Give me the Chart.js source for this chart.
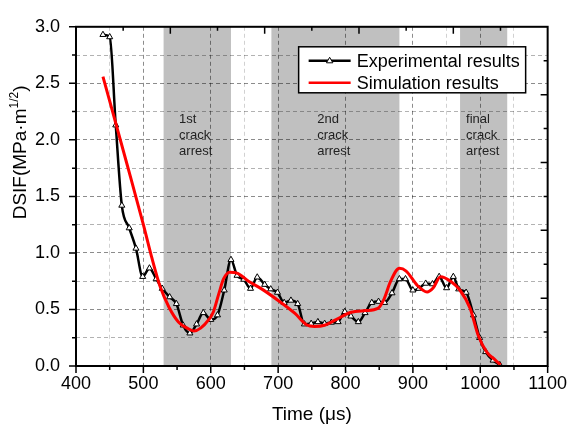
<!DOCTYPE html>
<html>
<head>
<meta charset="utf-8">
<script src="https://cdn.jsdelivr.net/npm/chart.js@4.4.0/dist/chart.umd.min.js"></script>
<style>
  html, body { margin: 0; padding: 0; background: #fff; }
  #wrap { width: 574px; height: 428px; }
</style>
</head>
<body>
<div id="wrap"><canvas id="dsifChart" width="574" height="428"></canvas></div>
<script>
// Experimental results (triangles), time in us, DSIF in MPa*m^1/2
const expTime = [440, 450, 459, 468, 479, 489, 499, 509, 519, 528,
  539, 549, 559, 569, 579, 589, 600, 610, 620, 630,
  639, 649, 659, 669, 680, 689, 699, 709, 719, 729,
  739, 749, 759, 769, 779, 789, 799, 808, 819, 829,
  839, 849, 858, 869, 880, 889, 900, 909, 919, 929,
  939, 950, 960, 968, 979, 990, 999, 1008, 1019, 1029];
const expDsif = [2.93, 2.91, 2.13, 1.42, 1.22, 1.04, 0.79, 0.865, 0.77, 0.685,
  0.61, 0.55, 0.36, 0.29, 0.37, 0.47, 0.41, 0.45, 0.67, 0.94,
  0.80, 0.765, 0.685, 0.785, 0.72, 0.68, 0.65, 0.56, 0.58, 0.55,
  0.37, 0.375, 0.39, 0.375, 0.385, 0.39, 0.48, 0.44, 0.39, 0.47,
  0.56, 0.57, 0.56, 0.645, 0.77, 0.77, 0.67, 0.685, 0.73, 0.725,
  0.79, 0.69, 0.79, 0.68, 0.65, 0.45, 0.25, 0.125, 0.05, 0.01];

// Simulation results (red curve)
const simTime = [440, 475, 500, 512, 525, 538, 552, 565, 575, 585,
  597, 604, 612, 619, 628, 640, 656, 676, 700, 725,
  742, 754, 769, 786, 808, 830, 848, 857, 867, 880,
  890, 907, 921, 930, 941, 956, 970, 985, 997, 1010,
  1022, 1030];
const simDsif = [2.56, 1.80, 1.25, 0.97, 0.70, 0.52, 0.39, 0.335, 0.31, 0.335,
  0.41, 0.48, 0.64, 0.77, 0.83, 0.82, 0.75, 0.68, 0.58, 0.465,
  0.365, 0.35, 0.36, 0.41, 0.475, 0.49, 0.51, 0.59, 0.75, 0.865,
  0.84, 0.71, 0.655, 0.69, 0.79, 0.75, 0.67, 0.51, 0.27, 0.12,
  0.055, 0.01];

// Crack arrest periods (grey bands) and their notes
const bandStart = [530, 690, 970];
const bandEnd = [630, 880, 1040];
const bandNotes = [["1st", "crack", "arrest"], ["2nd", "crack", "arrest"], ["final", "crack", "arrest"]];
const bandNoteX = [553, 758, 979];
const bandNoteY = 2.15;

// Tick labels
const xTickLabels = ["400", "500", "600", "700", "800", "900", "1000", "1100"];
const yTickLabels = ["0.0", "0.5", "1.0", "1.5", "2.0", "2.5", "3.0"];

const seriesNames = ["Experimental results", "Simulation results"];

const FONT = "Arial, 'Liberation Sans', Helvetica, sans-serif";
Chart.defaults.font.family = FONT;
Chart.defaults.color = "#000";

function inBand(v) {
  for (let i = 0; i < bandStart.length; i++) {
    if (v > bandStart[i] && v < bandEnd[i]) return true;
  }
  return false;
}

// grey bands go under the grid
const bandsPlugin = {
  id: "bands",
  beforeDraw(chart) {
    const { ctx, chartArea: a, scales: { x } } = chart;
    ctx.save();
    ctx.fillStyle = "#c0c0c0";
    bandStart.forEach((s, i) => {
      const x0 = x.getPixelForValue(s);
      const x1 = x.getPixelForValue(bandEnd[i]);
      ctx.fillRect(x0, a.top, x1 - x0, a.bottom - a.top);
    });
    ctx.restore();
  }
};

// frame, tick marks, notes, legend, y title
const decorPlugin = {
  id: "decor",
  afterDraw(chart) {
    const { ctx, chartArea: a, scales: { x, y } } = chart;
    ctx.save();

    // band notes
    ctx.fillStyle = "#222";
    ctx.font = "13px " + FONT;
    ctx.textAlign = "left";
    ctx.textBaseline = "alphabetic";
    bandNotes.forEach((lines, i) => {
      const px = x.getPixelForValue(bandNoteX[i]);
      const py = y.getPixelForValue(bandNoteY);
      lines.forEach((t, k) => ctx.fillText(t, px, py + k * 16));
    });

    // frame
    ctx.strokeStyle = "#000";
    ctx.lineWidth = 2;
    ctx.strokeRect(a.left, a.top, a.right - a.left, a.bottom - a.top);

    // ticks
    ctx.lineWidth = 1.5;
    ctx.beginPath();
    x.ticks.forEach(t => {
      const px = x.getPixelForValue(t.value);
      const len = t.value % 100 === 0 ? 7 : 4;
      ctx.moveTo(px, a.bottom);
      ctx.lineTo(px, a.bottom + len);
    });
    y.ticks.forEach(t => {
      const py = y.getPixelForValue(t.value);
      const len = (t.value * 2) % 1 === 0 ? 7 : 4;
      ctx.moveTo(a.left, py);
      ctx.lineTo(a.left - len, py);
    });
    for (let i = 1; i < 10; i++) {
      const len = i % 2 === 0 ? 7 : 4;
      const px = a.left + (a.right - a.left) * i / 10;
      ctx.moveTo(px, a.top);
      ctx.lineTo(px, a.top + len);
      const py = a.top + (a.bottom - a.top) * i / 10;
      ctx.moveTo(a.right, py);
      ctx.lineTo(a.right - len, py);
    }
    ctx.stroke();

    // legend
    const lw = 227, lh = 46;
    const lx = a.right - 22 - lw, ly = a.top + 20;
    ctx.fillStyle = "#fff";
    ctx.fillRect(lx, ly, lw, lh);
    ctx.lineWidth = 1.5;
    ctx.strokeRect(lx, ly, lw, lh);
    const rows = [ly + 14, ly + 36];
    const colors = ["#000", "#ff0000"];
    rows.forEach((ry, i) => {
      ctx.strokeStyle = colors[i];
      ctx.lineWidth = 2.5;
      ctx.beginPath();
      ctx.moveTo(lx + 10, ry);
      ctx.lineTo(lx + 52, ry);
      ctx.stroke();
      if (i === 0) {
        const cx = lx + 31;
        ctx.beginPath();
        ctx.moveTo(cx, ry - 3.5);
        ctx.lineTo(cx + 3.2, ry + 2);
        ctx.lineTo(cx - 3.2, ry + 2);
        ctx.closePath();
        ctx.fillStyle = "#fff";
        ctx.fill();
        ctx.lineWidth = 1;
        ctx.strokeStyle = "#000";
        ctx.stroke();
      }
      ctx.fillStyle = "#000";
      ctx.font = "18px " + FONT;
      ctx.textBaseline = "middle";
      ctx.fillText(seriesNames[i], lx + 58, ry + 1);
    });

    // y axis title with superscript
    const main = "DSIF(MPa·m", sup = "1/2", close = ")";
    ctx.font = "19px " + FONT;
    const wMain = ctx.measureText(main).width;
    const wClose = ctx.measureText(close).width;
    ctx.font = "12px " + FONT;
    const wSup = ctx.measureText(sup).width;
    const total = wMain + wSup + wClose;
    ctx.translate(26, (a.top + a.bottom) / 2 - 44);
    ctx.rotate(-Math.PI / 2);
    ctx.textBaseline = "alphabetic";
    ctx.fillStyle = "#000";
    let sx = -total / 2;
    ctx.font = "19px " + FONT;
    ctx.fillText(main, sx, 0);
    sx += wMain;
    ctx.font = "12px " + FONT;
    ctx.fillText(sup, sx, -8);
    sx += wSup;
    ctx.font = "19px " + FONT;
    ctx.fillText(close, sx, 0);

    ctx.restore();
  }
};

const ctx = document.getElementById("dsifChart").getContext("2d");
const dsifChart = new Chart(ctx, {
  type: "line",
  data: {
    datasets: [
      {
        label: seriesNames[1],
        data: simTime.map((t, i) => ({ x: t, y: simDsif[i] })),
        borderColor: "#ff0000",
        borderWidth: 3,
        pointRadius: 0,
        cubicInterpolationMode: "monotone",
        fill: false,
        order: 0
      },
      {
        label: seriesNames[0],
        data: expTime.map((t, i) => ({ x: t, y: expDsif[i] })),
        borderColor: "#000",
        borderWidth: 2.5,
        pointStyle: "triangle",
        pointRadius: 3.5,
        pointBackgroundColor: "#fff",
        pointBorderColor: "#000",
        pointBorderWidth: 1,
        cubicInterpolationMode: "monotone",
        fill: false,
        order: 1
      }
    ]
  },
  options: {
    responsive: false,
    animation: false,
    devicePixelRatio: 1,
    layout: { padding: { top: 16, right: 23, left: 0, bottom: 0 } },
    plugins: {
      legend: { display: false },
      tooltip: { enabled: false }
    },
    scales: {
      x: {
        type: "linear",
        min: 400,
        max: 1100,
        afterFit: s => { s.height = 62; },
        ticks: {
          stepSize: 50,
          padding: 7,
          maxRotation: 0,
          autoSkip: false,
          font: { size: 18 },
          color: "#000",
          callback: v => (v % 100 === 0 ? xTickLabels[(v - 400) / 100] : "")
        },
        grid: {
          drawTicks: false,
          lineWidth: 1,
          color: c => {
            const v = c.tick.value;
            if (v % 100 === 0) return "rgba(0,0,0,0.45)";
            if (inBand(v)) return "rgba(0,0,0,0)";
            return "rgba(0,0,0,0.18)";
          }
        },
        border: { display: false, dash: [4, 3] },
        title: {
          display: true,
          text: "Time (μs)",
          font: { size: 19 },
          color: "#000",
          padding: { top: 4, bottom: 2 }
        }
      },
      y: {
        min: 0,
        max: 3,
        afterFit: s => { s.width = 76; },
        ticks: {
          stepSize: 0.25,
          padding: 16,
          autoSkip: false,
          font: { size: 18 },
          color: "#000",
          callback: v => ((v * 2) % 1 === 0 ? yTickLabels[v * 2] : "")
        },
        grid: {
          drawTicks: false,
          lineWidth: 1,
          color: c => ((c.tick.value * 2) % 1 === 0 ? "rgba(0,0,0,0.45)" : "rgba(0,0,0,0.3)")
        },
        border: { display: false, dash: [4, 3] }
      }
    }
  },
  plugins: [bandsPlugin, decorPlugin]
});
</script>
</body>
</html>
